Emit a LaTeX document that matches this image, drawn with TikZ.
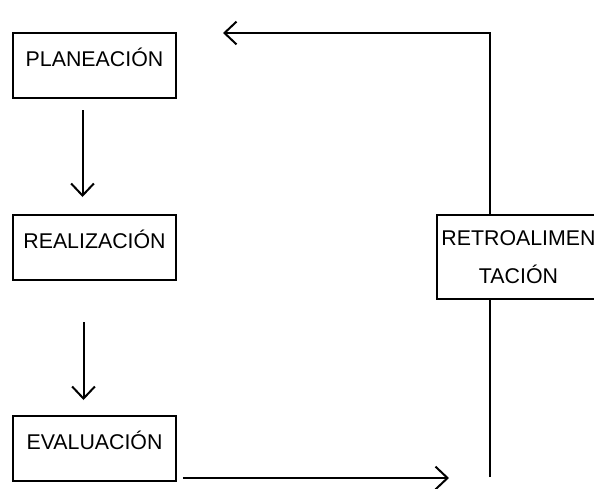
\documentclass[tikz,border=0pt]{standalone}
\usepackage{fontspec}
\setmainfont{Liberation Sans}
\usetikzlibrary{arrows.meta,calc}

\begin{document}
\begin{tikzpicture}[x=0.75pt,y=-0.75pt,line width=1.5pt,
  caja/.style={draw,rectangle,inner sep=0pt,minimum width=122pt,
    text height=24.75pt,text depth=24pt,font=\fontsize{16}{19}\selectfont},
  flecha/.style={-{Straight Barb[length=9pt,width=17pt]}}]
\useasboundingbox (0,0) rectangle (594,489);
\node[caja,anchor=north](plan) at (94.5,32){PLANEACIÓN};
\node[caja,anchor=north](real) at (94.5,214){REALIZACIÓN};
\node[caja,anchor=north](eval) at (94.5,415){EVALUACIÓN};
\node[draw,rectangle,anchor=north,minimum width=122pt,inner xsep=0pt,
  inner ysep=11.4pt,align=center,font=\fontsize{16}{28.5}\selectfont]
  (retro) at (518.5,214){RETROALIMEN\\TACIÓN};
\coordinate (abajo) at (490,477);
\coordinate (arriba) at (490,33);
\coordinate (punta) at (223,33);
\coordinate (sale) at ($(eval.south east)+(6,-4)$);
\draw[flecha] ($(plan.south)+(-12,11)$) -- ($(real.north)+(-12,-17)$);
\draw[flecha] ($(real.south)+(-11,41)$) -- ($(eval.north)+(-11,-15)$);
\draw[flecha] (sale) -- ($(sale -| abajo)+(-41,0)$);
\draw (abajo) -- (abajo |- retro.south);
\draw[flecha] (arriba |- retro.north) -- (arriba) -- (punta);
\end{tikzpicture}
\end{document}
